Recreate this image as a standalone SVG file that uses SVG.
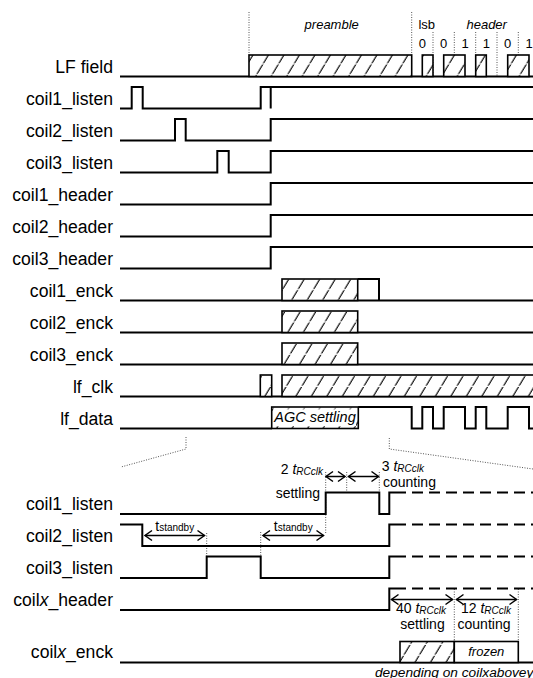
<svg xmlns="http://www.w3.org/2000/svg" width="533" height="678" viewBox="0 0 533 678">
<style>
text{font-family:"Liberation Sans",Arial,sans-serif;fill:#000}
.lbl{font-size:17.6px;text-anchor:end}
.sm{font-size:13px}
.it{font-style:italic}
.mid{text-anchor:middle}
.end{text-anchor:end}
.ann{font-size:14px}
.sub{font-size:10px;font-style:italic}
.sig{fill:none;stroke:#000;stroke-width:2}
.dsh{fill:none;stroke:#000;stroke-width:2;stroke-dasharray:11 6}
.box{fill:url(#hatch);stroke:#000;stroke-width:1.6}
.wbox{fill:#fff;stroke:#000;stroke-width:1.6}
.dot{fill:none;stroke:#555;stroke-width:1;stroke-dasharray:1 1.5}
.arr{fill:none;stroke:#000;stroke-width:1.5;marker-start:url(#ah);marker-end:url(#ah)}
</style>
<defs>
<pattern id="hatch" patternUnits="userSpaceOnUse" width="15.5" height="10.75" patternTransform="skewX(-31)">
<rect width="15.5" height="10.75" fill="#fff"/>
<line x1="7" y1="0" x2="7" y2="9.5" stroke="#000" stroke-width="1.3"/>
</pattern>
<marker id="ah" viewBox="-9 -6 10 12" refX="0" refY="0" markerWidth="10" markerHeight="12" markerUnits="userSpaceOnUse" orient="auto-start-reverse" overflow="visible">
<path d="M-7,-5 L0,0 L-7,5" fill="none" stroke="#000" stroke-width="1.5"/>
</marker>
</defs>
<rect width="533" height="678" fill="#fff"/>

<g id="connectors">
<path class="dot" d="M249,12 V55 M411.7,12 V55 M433,32 V76.5 M454.3,32 V76.5 M475.7,32 V76.5 M497,32 V76.5 M518.3,32 V76.5"/>
<path class="dot" d="M186,437 V449 L121,467 M389.3,438 V449 L533,469"/>
<path class="dot" d="M206.7,533 V556.5 M260.7,532 V556.5 M325.7,472 V534 M346.7,472 V492.5 M379.3,472 V492.5 M454.3,589 V641.7 M518.3,589 V641.7"/>
<line class="arr" x1="145" y1="535.5" x2="204.5" y2="535.5"/>
<line class="arr" x1="263" y1="535.5" x2="323.5" y2="535.5"/>
<line class="arr" x1="326" y1="476.5" x2="345" y2="476.5"/>
<line class="arr" x1="348.5" y1="476.5" x2="378.5" y2="476.5"/>
<line class="arr" x1="391.5" y1="599.5" x2="452.5" y2="599.5"/>
<line class="arr" x1="456.5" y1="599.5" x2="516.5" y2="599.5"/>
</g>

<g id="header-labels">
<text class="sm it mid" x="331.7" y="28.5">preamble</text>
<text class="sm mid" x="426.7" y="28.5">lsb</text>
<text class="sm it mid" x="486.7" y="28.5">header</text>
<text class="sm mid" x="422.3" y="48">0</text>
<text class="sm mid" x="443.7" y="48">0</text>
<text class="sm mid" x="465" y="48">1</text>
<text class="sm mid" x="486.3" y="48">1</text>
<text class="sm mid" x="507.7" y="48">0</text>
<text class="sm mid" x="529" y="48">1</text>
</g>

<g id="lf_field">
<text class="lbl" x="113" y="72.5">LF field</text>
<path class="sig" d="M120,76.5 H533"/>
<rect class="box" x="249" y="55" width="162.7" height="21.5"/>
<rect class="box" x="422.3" y="55" width="10.7" height="21.5"/>
<rect class="box" x="443.7" y="55" width="21.3" height="21.5"/>
<rect class="box" x="475.7" y="55" width="10.6" height="21.5"/>
<rect class="box" x="507.7" y="55" width="21.3" height="21.5"/>
</g>

<g id="coil1_listen">
<text class="lbl" x="113" y="104.5">coil1_listen</text>
<path class="sig" d="M120,108.5 H131.7 V87 H142.7 V108.5 H260.7 V87 H533 M270.7,87 V108.5"/>
</g>
<g id="coil2_listen">
<text class="lbl" x="113" y="136.5">coil2_listen</text>
<path class="sig" d="M120,140.5 H175 V119 H185.7 V140.5 H270.7 V119 H533"/>
</g>
<g id="coil3_listen">
<text class="lbl" x="113" y="168.5">coil3_listen</text>
<path class="sig" d="M120,172.5 H217.3 V151 H228.7 V172.5 H270.7 V151 H533"/>
</g>
<g id="coil1_header">
<text class="lbl" x="113" y="200.5">coil1_header</text>
<path class="sig" d="M120,204.5 H270.7 V183 H533"/>
</g>
<g id="coil2_header">
<text class="lbl" x="113" y="232.5">coil2_header</text>
<path class="sig" d="M120,236.5 H270.7 V215 H533"/>
</g>
<g id="coil3_header">
<text class="lbl" x="113" y="264.5">coil3_header</text>
<path class="sig" d="M120,268.5 H270.7 V247 H533"/>
</g>
<g id="coil1_enck">
<text class="lbl" x="113" y="296.5">coil1_enck</text>
<path class="sig" d="M120,300.5 H533 M357.7,279 H379 V300.5"/>
<rect class="box" x="282" y="279" width="75.7" height="21.5"/>
</g>
<g id="coil2_enck">
<text class="lbl" x="113" y="328.5">coil2_enck</text>
<path class="sig" d="M120,332.5 H533"/>
<rect class="box" x="282" y="311" width="75.7" height="21.5"/>
</g>
<g id="coil3_enck">
<text class="lbl" x="113" y="360.5">coil3_enck</text>
<path class="sig" d="M120,364.5 H533"/>
<rect class="box" x="282" y="343" width="75.7" height="21.5"/>
</g>
<g id="lf_clk">
<text class="lbl" x="113" y="392.5">lf_clk</text>
<path class="sig" d="M120,396.5 H533"/>
<rect class="box" x="260.3" y="375" width="11.4" height="21.5"/>
<rect class="box" x="282" y="375" width="260" height="21.5"/>
</g>
<g id="lf_data">
<text class="lbl" x="113" y="424.5">lf_data</text>
<path class="sig" d="M120,428.5 H271.7 M358.3,407 H411.7 V428.5 H422.3 V407 H433 V428.5 H443.7 V407 H465 V428.5 H475.7 V407 H486.3 V428.5 H507.7 V407 H529 V428.5 H533"/>
<rect class="box" x="271.7" y="407" width="86.6" height="21.5"/>
<rect x="274" y="409.3" width="82" height="17" fill="#fff"/>
<text class="it mid" style="font-size:14.5px" x="315" y="421.5">AGC settling</text>
</g>

<g id="b_coil1_listen">
<text class="lbl" x="113" y="510">coil1_listen</text>
<path class="sig" d="M120,514 H325.7 V492.5 H379.3 V514 H389.3 V492.5 H406"/>
<path class="dsh" d="M406,492.5 H533" style="stroke-dashoffset:-6"/>
<text class="ann end" x="323" y="473.5">2 <tspan class="it">t</tspan><tspan class="sub" dy="1.5">RCclk</tspan></text>
<text class="ann end" x="320" y="497.5">settling</text>
<text class="ann" x="381.7" y="471">3 <tspan class="it">t</tspan><tspan class="sub" dy="1">RCclk</tspan></text>
<text class="ann" x="383" y="486.5">counting</text>
</g>
<g id="b_coil2_listen">
<text class="lbl" x="113" y="542">coil2_listen</text>
<path class="sig" d="M120,524.5 H142.3 V546 H389.3 V524.5 H406"/>
<path class="dsh" d="M406,524.5 H533" style="stroke-dashoffset:-6"/>
<text class="mid" x="174.7" y="530.5"><tspan style="font-size:14px">t</tspan><tspan style="font-size:10px" dy="0.5">standby</tspan></text>
<text class="mid" x="293.2" y="530.5"><tspan style="font-size:14px">t</tspan><tspan style="font-size:10px" dy="0.5">standby</tspan></text>
</g>
<g id="b_coil3_listen">
<text class="lbl" x="113" y="574">coil3_listen</text>
<path class="sig" d="M120,578 H206.7 V556.5 H260.7 V578 H389.3 V556.5 H406"/>
<path class="dsh" d="M406,556.5 H533" style="stroke-dashoffset:-6"/>
</g>
<g id="b_coilx_header">
<text class="lbl" x="113" y="606">coil<tspan class="it">x</tspan>_header</text>
<path class="sig" d="M120,610 H389.3 V588.5 H406"/>
<path class="dsh" d="M406,588.5 H533" style="stroke-dashoffset:-6"/>
<text class="ann mid" x="421" y="612.5">40 <tspan class="it">t</tspan><tspan class="sub" dy="1">RCclk</tspan></text>
<text class="ann mid" x="422.5" y="629">settling</text>
<text class="ann mid" x="486" y="612.5">12 <tspan class="it">t</tspan><tspan class="sub" dy="1">RCclk</tspan></text>
<text class="ann mid" x="484" y="629">counting</text>
</g>
<g id="b_coilx_enck">
<text class="lbl" x="113" y="658">coil<tspan class="it">x</tspan>_enck</text>
<path class="sig" d="M120,662.5 H533"/>
<rect class="box" x="400" y="641.5" width="54.3" height="21"/>
<rect class="wbox" x="454.3" y="641.5" width="64" height="21"/>
<text class="sm it mid" x="486.3" y="655.5">frozen</text>
<text class="it" style="font-size:13.7px" x="375" y="676.5">depending on coilxabovey</text>
</g>
</svg>
